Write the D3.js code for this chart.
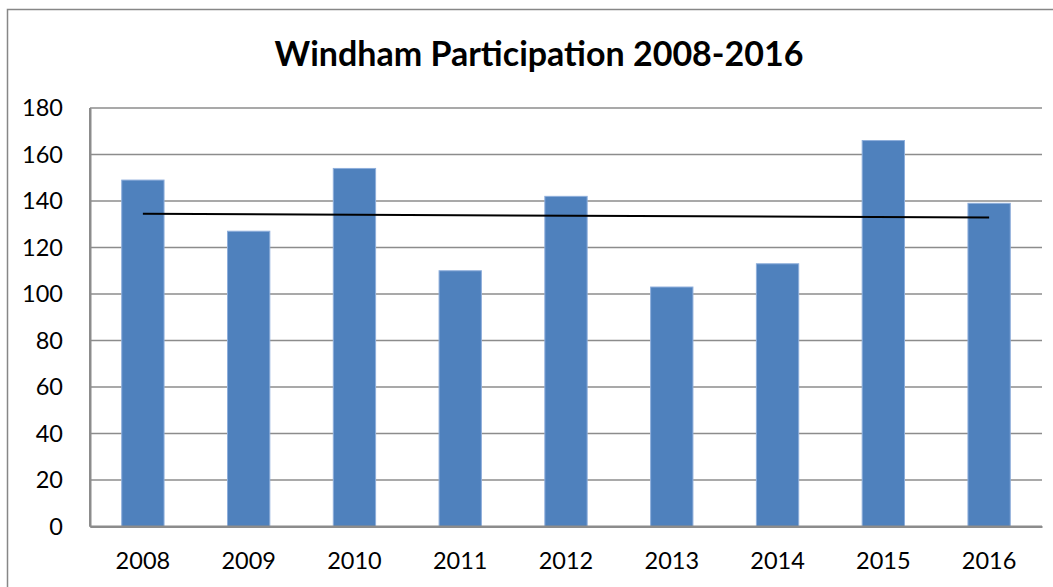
<!DOCTYPE html>
<html>
<head>
<meta charset="utf-8">
<script src="https://cdn.jsdelivr.net/npm/d3@7"></script>
<style>
  body { margin: 0; background: #fff; }
  svg { display: block; }
</style>
</head>
<body>
<div class="container"></div>
<script>
var years = ["2008", "2009", "2010", "2011", "2012", "2013", "2014", "2015", "2016"];
var participation = [149, 127, 154, 110, 142, 103, 113, 166, 139];
// linear trendline end points (first year, last year)
var trendEnds = [134.5, 132.9];
var yTicks = [0, 20, 40, 60, 80, 100, 120, 140, 160, 180];

var svgWidth = 1053;
var svgHeight = 587;

var chartMargin = { top: 108, bottom: 60, left: 90, right: 11 };
var chartWidth = svgWidth - (chartMargin.left + chartMargin.right);
var chartHeight = svgHeight - (chartMargin.top + chartMargin.bottom) - 0.5;

var svg = d3.select(".container")
    .append("svg")
    .attr("width", svgWidth)
    .attr("height", svgHeight);

// outer chart border
svg.append("rect")
    .attr("x", 7.5)
    .attr("y", 9.5)
    .attr("width", 1100)
    .attr("height", 700)
    .attr("fill", "none")
    .attr("stroke", "#878787")
    .attr("stroke-width", 1.5);

svg.append("text")
    .attr("x", 539)
    .attr("y", 66)
    .attr("text-anchor", "middle")
    .style("font-family", "Lato, 'Open Sans', sans-serif")
    .style("font-weight", "bold")
    .style("font-size", "34px")
    .text("Windham Participation 2008-2016");

var chartGroup = svg.append("g")
    .attr("transform", `translate(${chartMargin.left}, ${chartMargin.top})`);

var xBandScale = d3.scaleBand()
    .domain(years)
    .range([0, chartWidth])
    .paddingInner(0.6)
    .paddingOuter(0.3);

var yLinearScale = d3.scaleLinear()
    .domain([0, 180])
    .range([chartHeight, 0]);

// gridlines
chartGroup.append("g")
    .selectAll("line")
    .data(yTicks.slice(1))
    .enter()
    .append("line")
    .attr("x1", 0)
    .attr("x2", chartWidth)
    .attr("y1", d => yLinearScale(d))
    .attr("y2", d => yLinearScale(d))
    .attr("stroke", "#8c8c8c")
    .attr("stroke-width", 1.5);

var leftAxis = d3.axisLeft(yLinearScale).tickValues(yTicks).tickSize(0).tickPadding(27);
var bottomAxis = d3.axisBottom(xBandScale).tickSize(0).tickPadding(26);

var yAxis = chartGroup.append("g").call(leftAxis);
var xAxis = chartGroup.append("g")
    .attr("transform", `translate(0, ${chartHeight})`)
    .call(bottomAxis);

[yAxis, xAxis].forEach(function (ax) {
    ax.select(".domain").attr("stroke", "#8c8c8c").attr("stroke-width", 2);
    ax.selectAll("text")
        .style("font-family", "Lato, 'Open Sans', sans-serif")
        .style("font-size", "23.5px")
        .attr("fill", "#000");
});

chartGroup.selectAll(".bar")
    .data(participation)
    .enter()
    .append("rect")
    .classed("bar", true)
    .attr("x", (d, i) => xBandScale(years[i]))
    .attr("width", xBandScale.bandwidth())
    .attr("y", d => yLinearScale(d))
    .attr("height", d => chartHeight - yLinearScale(d))
    .attr("fill", "#4f81bd")
    .attr("stroke", "#8eaedb")
    .attr("stroke-width", 1);

// trendline from first to last category centre
var half = xBandScale.bandwidth() / 2;
chartGroup.append("line")
    .attr("x1", xBandScale(years[0]) + half)
    .attr("x2", xBandScale(years[years.length - 1]) + half)
    .attr("y1", yLinearScale(trendEnds[0]))
    .attr("y2", yLinearScale(trendEnds[1]))
    .attr("stroke", "#000")
    .attr("stroke-width", 2);

// axis lines drawn above bars
chartGroup.append("line")
    .attr("x1", 0).attr("x2", 0)
    .attr("y1", 0).attr("y2", chartHeight)
    .attr("stroke", "#8c8c8c")
    .attr("stroke-width", 2);
chartGroup.append("line")
    .attr("x1", 0).attr("x2", chartWidth)
    .attr("y1", chartHeight).attr("y2", chartHeight)
    .attr("stroke", "#8c8c8c")
    .attr("stroke-width", 2);
</script>
</body>
</html>
